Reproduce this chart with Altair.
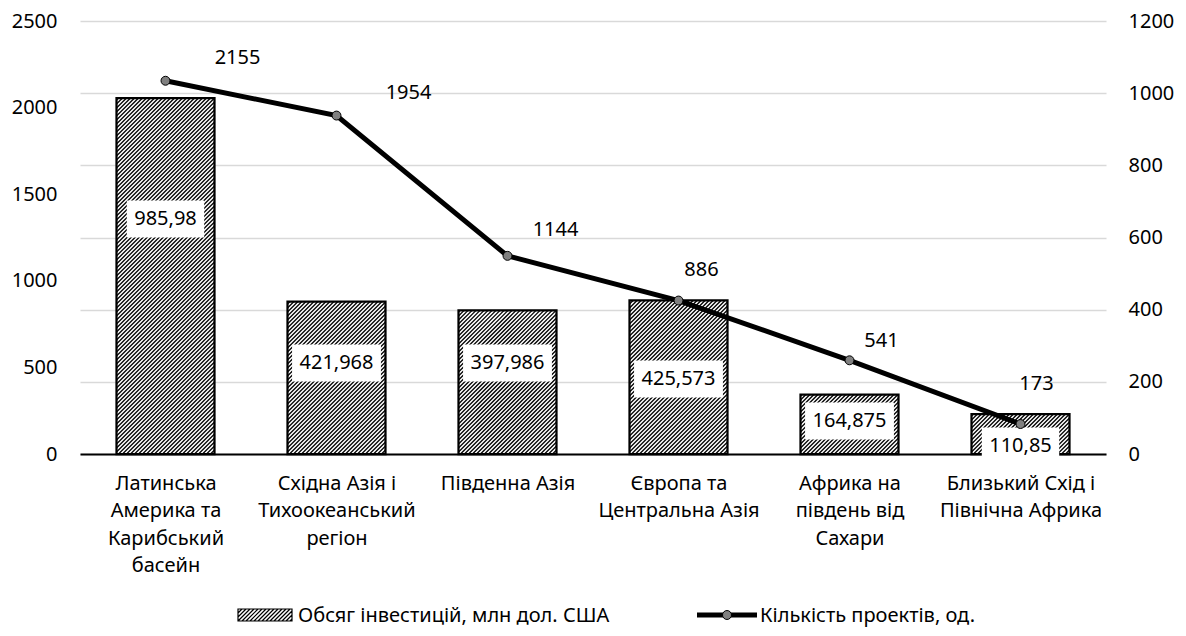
import json
import altair as alt
import pandas as pd

# ---------------- data ----------------
regions = [
    "Латинська\nАмерика та\nКарибський\nбасейн",
    "Східна Азія і\nТихоокеанський\nрегіон",
    "Південна Азія",
    "Європа та\nЦентральна Азія",
    "Африка на\nпівдень від\nСахари",
    "Близький Схід і\nПівнічна Африка",
]
invest = [985.98, 421.968, 397.986, 425.573, 164.875, 110.85]
invest_labels = ["985,98", "421,968", "397,986", "425,573", "164,875", "110,85"]
projects = [2155, 1954, 1144, 886, 541, 173]
projects_labels = ["2155", "1954", "1144", "886", "541", "173"]

series_bar = "Обсяг інвестицій, млн дол. США"
series_line = "Кількість проектів, од."

# label placement (pixels)
bar_label_rise = [235, 91, 91, 75, 33, 8]
line_label_dx = [72, 72, 48, 23, 32, 16]
line_label_dy = [23, 23, 26, 31, 19, 40]

# ---------------- layout constants ----------------
W, H = 1026, 433
SX = W / 6.0
SY = H / 1200.0
SYL = H / 2500.0
HALF = 0.2865
P = 4.0          # hatch period in px
FONT = "Noto Sans"
FS = 20

df = pd.DataFrame({
    "idx": list(range(len(regions))),
    "invest": invest,
    "inv_label": invest_labels,
    "projects": projects,
    "proj_label": projects_labels,
    "rise": bar_label_rise,
    "ldx": line_label_dx,
    "ldy": line_label_dy,
})

x_scale = alt.Scale(domain=[-0.5, 5.5], nice=False, zero=False)
yR = alt.Scale(domain=[0, 1200], nice=False)
yL = alt.Scale(domain=[0, 2500], nice=False)

names_js = json.dumps([r.replace("\n", "|") for r in regions], ensure_ascii=False)
x_axis = alt.Axis(
    values=[0, 1, 2, 3, 4, 5],
    labelExpr=f"split({names_js}[datum.value], '|')",
    ticks=False, grid=False, domainColor="black", domainWidth=2,
    labelPadding=19, labelBaseline="top", labelLineHeight=27.5,
    labelFontSize=FS, labelColor="black", labelOverlap=False,
    labelBound=False, labelFlush=False, labelAlign="center", title=None,
)
right_axis = alt.Axis(
    orient="right", values=[0, 200, 400, 600, 800, 1000, 1200], format="d",
    ticks=False, domain=False, grid=True, gridColor="#d9d9d9", gridWidth=1.3,
    labelPadding=22, labelFontSize=FS, labelColor="black", title=None,
)
left_axis = alt.Axis(
    orient="left", values=[0, 500, 1000, 1500, 2000, 2500], format="d",
    ticks=False, domain=False, grid=False,
    labelPadding=23, labelFontSize=FS, labelColor="black", title=None,
)


def X(field):
    return alt.X(field, scale=x_scale, axis=x_axis)


def YR(field):
    return alt.Y(field, scale=yR, axis=right_axis)


def YL(field):
    return alt.Y(field, scale=yL, axis=left_axis)


base = alt.Chart(df)
barpos = base.transform_calculate(
    bx=f"datum.idx - {HALF}", bx2=f"datum.idx + {HALF}", zero="0"
)

bar_fill = barpos.mark_rect(color="white").encode(
    x=X("bx:Q"), x2="bx2:Q", y=YR("invest:Q"), y2="zero:Q",
)

hatch = base.transform_calculate(
    Wp=f"{2 * HALF * SX}",
    Hp=f"datum.invest * {SY}",
    seq=f"sequence(0, ceil((datum.Wp + datum.Hp) / {P}) + 1)",
).transform_flatten(["seq"], as_=["k"]).transform_calculate(
    c=f"datum.k * {P} - datum.Wp",
    u0="max(0, -datum.c)",
    u1="min(datum.Wp, datum.Hp - datum.c)",
).transform_filter("datum.u1 > datum.u0").transform_calculate(
    hx=f"datum.idx - {HALF} + datum.u0 / {SX}",
    hx2=f"datum.idx - {HALF} + datum.u1 / {SX}",
    hy=f"(datum.u0 + datum.c) / {SY}",
    hy2=f"(datum.u1 + datum.c) / {SY}",
).mark_rule(color="black", strokeWidth=1.3).encode(
    x=X("hx:Q"), x2="hx2:Q", y=YR("hy:Q"), y2="hy2:Q",
)

bar_outline = barpos.mark_rect(fillOpacity=0, stroke="black", strokeWidth=2.25).encode(
    x=X("bx:Q"), x2="bx2:Q", y=YR("invest:Q"), y2="zero:Q",
)

labpos = base.transform_calculate(
    bw="(length(datum.inv_label) - 1) * 11.44 + 5.2 + 15",
    cx0=f"datum.idx - datum.bw / 2 / {SX}",
    cx1=f"datum.idx + datum.bw / 2 / {SX}",
    cy=f"datum.rise / {SY}",
    cy0=f"(datum.rise - 18.5) / {SY}",
    cy1=f"(datum.rise + 18.5) / {SY}",
)
label_box = labpos.mark_rect(color="white").encode(
    x=X("cx0:Q"), x2="cx1:Q", y=YR("cy0:Q"), y2="cy1:Q",
)
label_text = labpos.mark_text(fontSize=FS, color="black", baseline="middle").encode(
    x=X("idx:Q"), y=YR("cy:Q"), text="inv_label:N",
)

bar_group = alt.layer(bar_fill, hatch, bar_outline, label_box, label_text)

line = base.mark_line(color="black", strokeWidth=5).encode(
    x=X("idx:Q"), y=YL("projects:Q"),
)
pts = base.mark_circle(size=80, color="#808080", opacity=1, stroke="black", strokeWidth=1).encode(
    x=X("idx:Q"), y=YL("projects:Q"),
)
line_labels = base.transform_calculate(
    lx=f"datum.idx + datum.ldx / {SX}",
    ly=f"datum.projects + datum.ldy / {SYL}",
).mark_text(fontSize=FS, color="black", baseline="middle").encode(
    x=X("lx:Q"), y=YL("ly:Q"), text="proj_label:N",
)

# ---------------- legend (drawn manually below the plot) ----------------
one = alt.Chart(pd.DataFrame({"k": [0]}))
OX, OY = 80, 21  # plot origin on the page
LEG_Y = 615

# hatch swatch as a custom symbol path
hw, hh = 1.0, 6.0 / 27.0
step = P / 27.0
parts = [f"M{-hw},{-hh}H{hw}V{hh}H{-hw}Z"]
t = -hw - 2 * hh
while t < hw:
    x0, x1 = max(t, -hw), min(t + 2 * hh, hw)
    if x1 > x0:
        y0 = hh - (x0 - t)
        y1 = hh - (x1 - t)
        parts.append(f"M{x0:.4f},{y0:.4f}L{x1:.4f},{y1:.4f}")
    t += step
swatch_path = "".join(parts)

leg_swatch = one.mark_point(shape=swatch_path, size=54 * 54, filled=False, color="black",
                            strokeWidth=1.2, opacity=1).encode(
    x=alt.value(265 - OX), y=alt.value(LEG_Y - OY)
)
leg_text1 = one.mark_text(align="left", baseline="middle", fontSize=FS, color="black").encode(
    x=alt.value(298 - OX), y=alt.value(LEG_Y + 1 - OY), text=alt.value(series_bar)
)
leg_rule = one.mark_rule(color="black", strokeWidth=5).encode(
    x=alt.value(697 - OX), x2=alt.value(757 - OX), y=alt.value(LEG_Y - OY)
)
leg_dot = one.mark_circle(size=80, color="#808080", opacity=1, stroke="black", strokeWidth=1).encode(
    x=alt.value(727 - OX), y=alt.value(LEG_Y - OY)
)
leg_text2 = one.mark_text(align="left", baseline="middle", fontSize=FS, color="black").encode(
    x=alt.value(760 - OX), y=alt.value(LEG_Y + 1 - OY), text=alt.value(series_line)
)

line_group = alt.layer(line, pts, line_labels, leg_swatch, leg_text1, leg_rule, leg_dot, leg_text2)

chart = alt.layer(bar_group, line_group).resolve_scale(y="independent").properties(
    width=W, height=H,
    autosize=alt.AutoSizeParams(type="none"),
    padding={"left": 72, "top": 13, "right": 70, "bottom": 174},
).configure(font=FONT).configure_view(stroke=None)

chart.save("out.html", embed_options={"renderer": "svg", "actions": False})
